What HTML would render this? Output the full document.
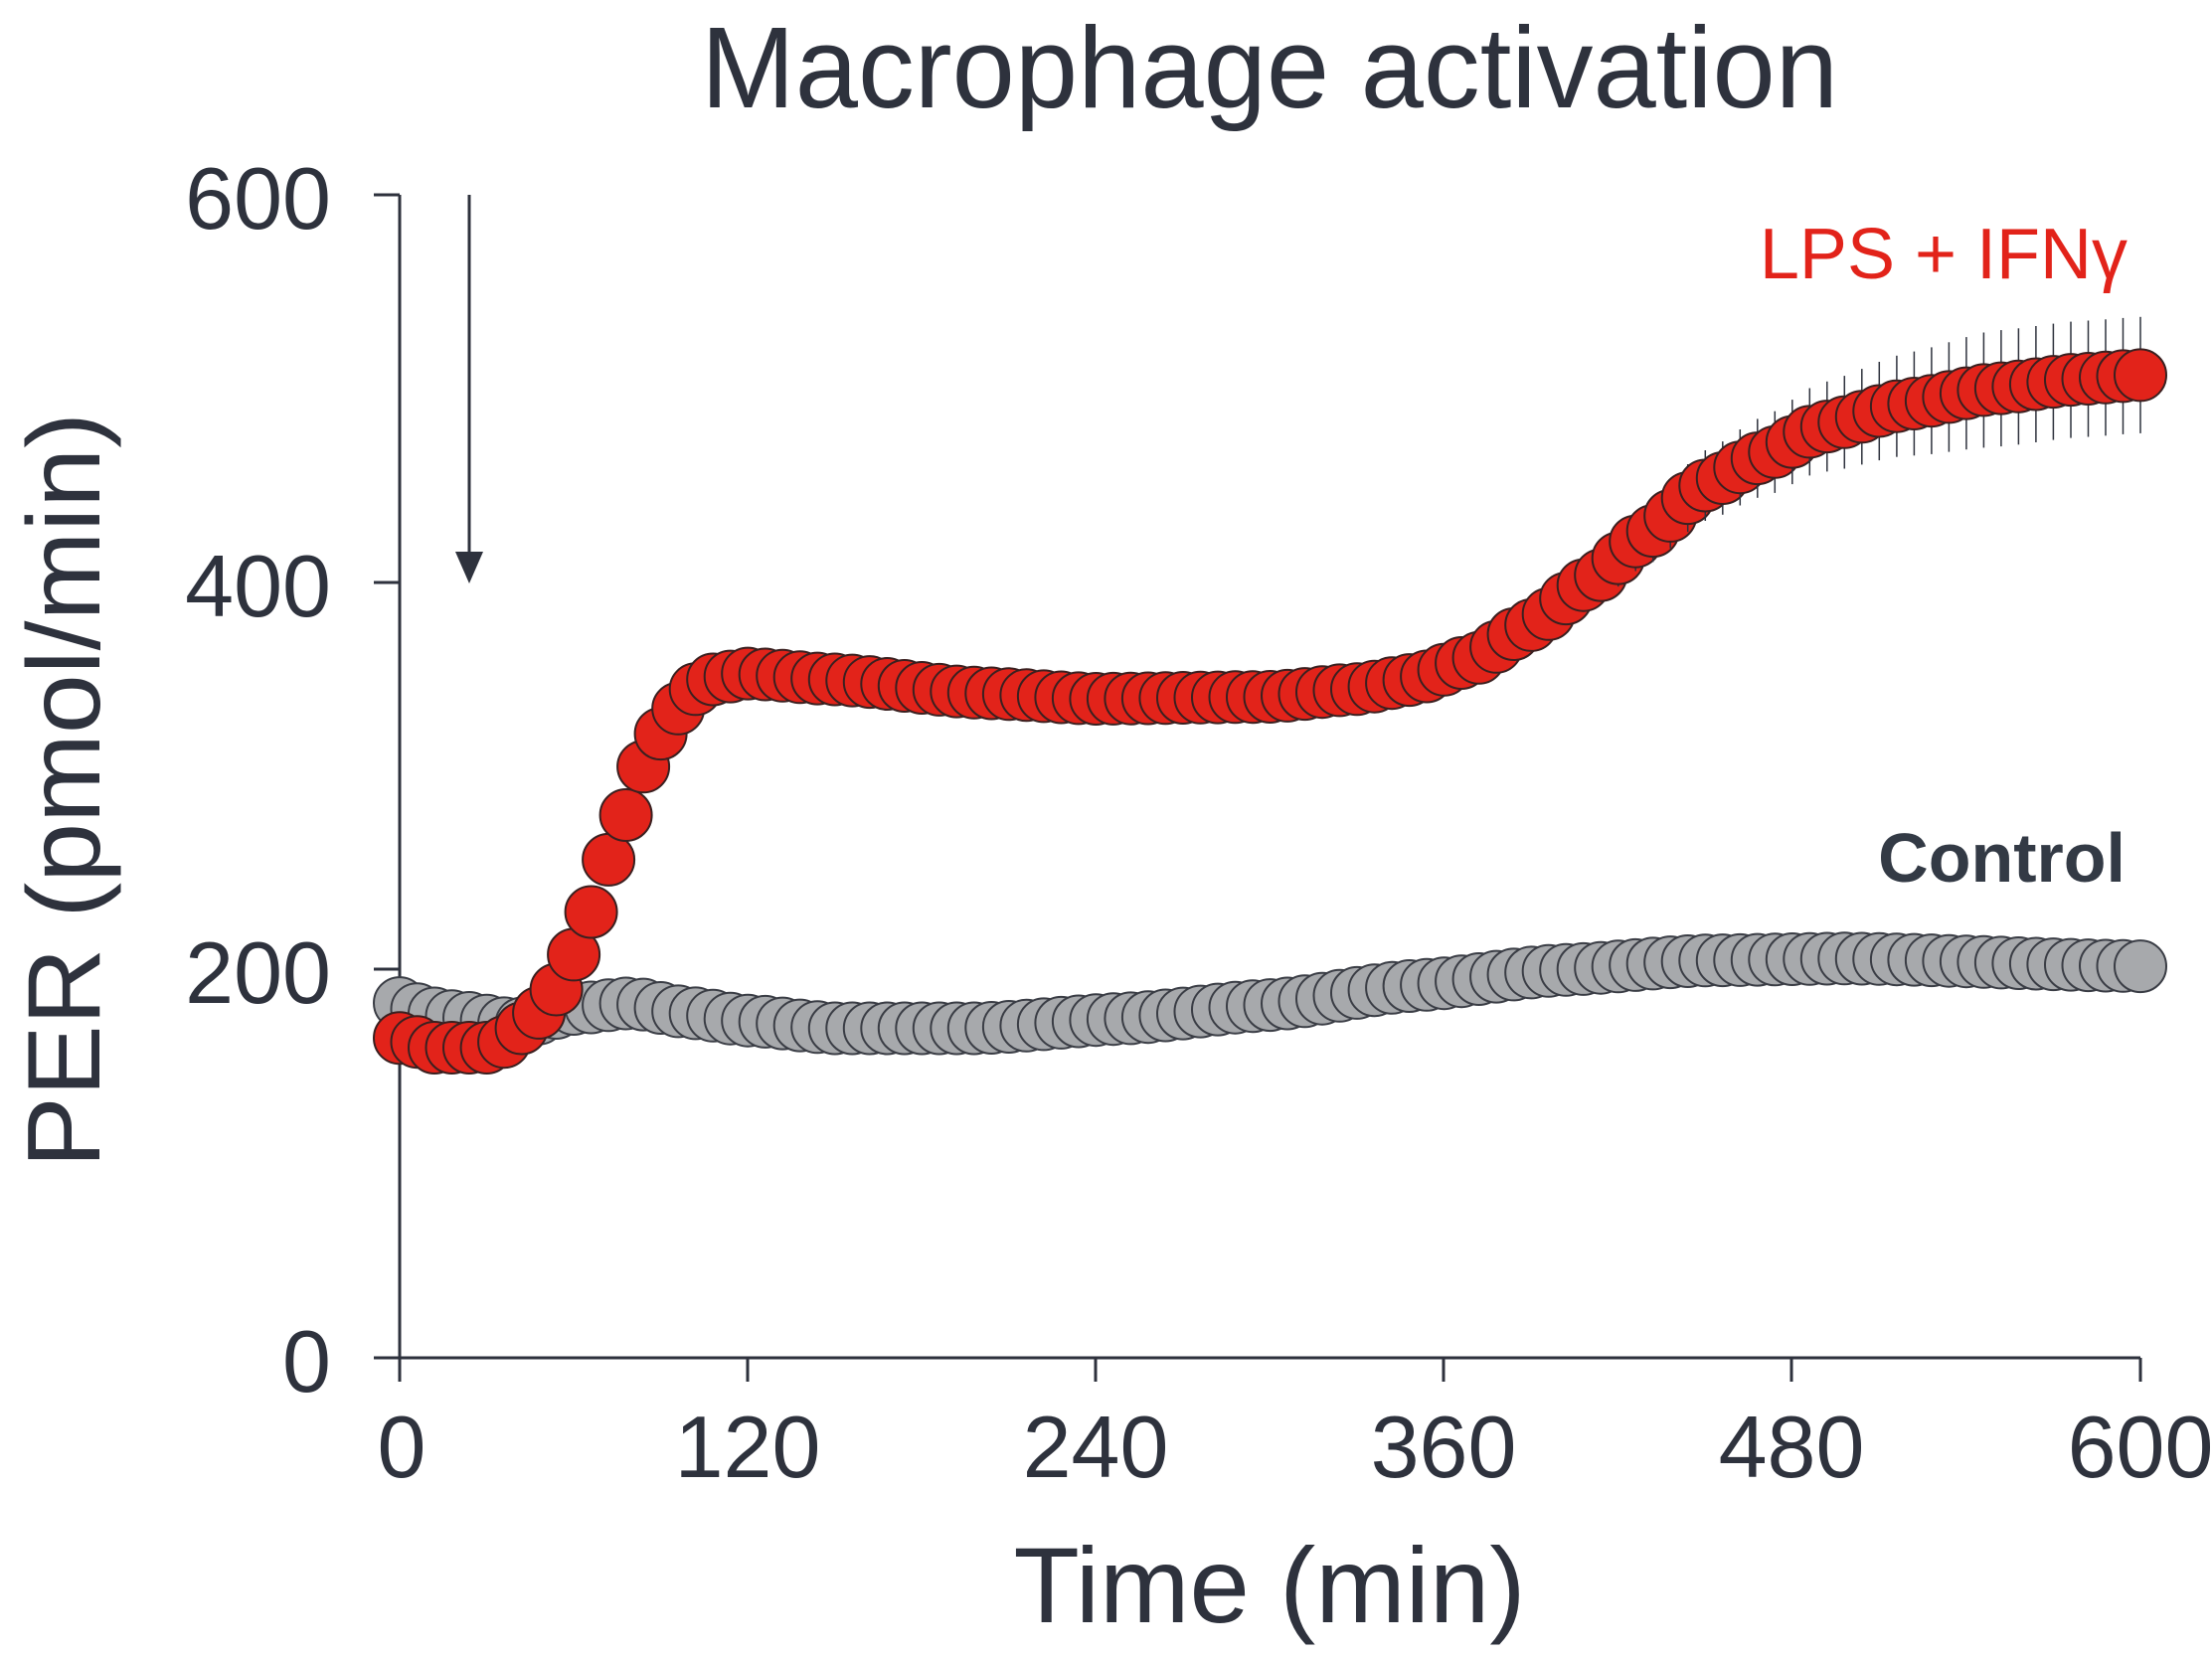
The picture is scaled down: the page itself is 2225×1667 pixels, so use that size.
<!DOCTYPE html>
<html><head><meta charset="utf-8">
<style>html,body{margin:0;padding:0;background:#fff}svg{display:block}</style>
</head><body>
<svg id="s" width="2225" height="1667" xmlns="http://www.w3.org/2000/svg" font-family="Liberation Sans, sans-serif">
<text x="1277" y="108" font-size="116" fill="#2e323d" text-anchor="middle" textLength="1144" lengthAdjust="spacingAndGlyphs">Macrophage activation</text>
<g stroke="#2e323d" stroke-width="3" fill="none">
<line x1="402" y1="196" x2="402" y2="1366"/>
<line x1="402" y1="1366" x2="2153" y2="1366"/>
<line x1="376" y1="196" x2="402" y2="196"/>
<line x1="376" y1="586" x2="402" y2="586"/>
<line x1="376" y1="975" x2="402" y2="975"/>
<line x1="376" y1="1366" x2="402" y2="1366"/>
<line x1="402" y1="1366" x2="402" y2="1390"/>
<line x1="752" y1="1366" x2="752" y2="1390"/>
<line x1="1102" y1="1366" x2="1102" y2="1390"/>
<line x1="1452" y1="1366" x2="1452" y2="1390"/>
<line x1="1802" y1="1366" x2="1802" y2="1390"/>
<line x1="2153" y1="1366" x2="2153" y2="1390"/>
<line x1="472" y1="196" x2="472" y2="570"/>
</g>
<polygon points="458,555 486,555 472,587" fill="#2e323d"/>
<g font-size="88" fill="#2e323d" text-anchor="end">
<text x="333" y="230">600</text><text x="333" y="620">400</text><text x="333" y="1009">200</text><text x="333" y="1400">0</text>
</g>
<g font-size="88" fill="#2e323d" text-anchor="middle">
<text x="404" y="1486">0</text><text x="752" y="1486">120</text><text x="1102" y="1486">240</text><text x="1452" y="1486">360</text><text x="1802" y="1486">480</text><text x="2153" y="1486">600</text>
</g>
<text x="1277" y="1632" font-size="108" fill="#2e323d" text-anchor="middle" textLength="515" lengthAdjust="spacingAndGlyphs">Time (min)</text>
<text transform="translate(100,795) rotate(-90)" font-size="104" fill="#2e323d" text-anchor="middle" textLength="760" lengthAdjust="spacingAndGlyphs">PER (pmol/min)</text>
<text x="2140" y="280" font-size="72" fill="#e2231a" text-anchor="end">LPS + IFNγ</text>
<text x="2138" y="887" font-size="70" fill="#333a45" font-weight="bold" text-anchor="end">Control</text>
<g id="g"></g>
</svg>
<script>
function interp(pts,t){for(var i=0;i<pts.length-1;i++){if(t<=pts[i+1][0]){var a=pts[i],b=pts[i+1];var f=(t-a[0])/(b[0]-a[0]);var s=f*f*(3-2*f);return a[1]+(b[1]-a[1])*(0.5*f+0.5*s);}}return pts[pts.length-1][1];}
var red=[[0,165],[6,163],[12,160],[30,160],[36,163],[42,170],[48,178],[54,190],[60,208],[66,230],[72,257],[78,280],[84,305],[90,322],[96,335],[102,345],[108,350],[120,353],[150,350],[200,343],[240,340],[300,341],[330,345],[350,350],[370,360],[390,378],[410,400],[430,425],[450,450],[470,465],[490,480],[520,492],[550,500],[580,505],[600,507]];
var gray=[[0,183],[10,178],[20,176],[40,172],[60,180],[80,183],[100,178],[120,174],[150,170],[200,170],[250,175],[300,182],[350,192],[400,200],[450,205],[500,206],[600,202]];
function X(t){return 402+t*(2153-402)/600}function Y(v){return 1366-v*(1366-196)/600}
var h='';
for(var t=0;t<=600;t+=6){var v=interp(gray,t);h+='<circle cx="'+X(t).toFixed(1)+'" cy="'+Y(v).toFixed(1)+'" r="26" fill="#a7a9ac" stroke="#3a3d45" stroke-width="2"/>';}
for(var t=0;t<=600;t+=6){var v=interp(red,t);var e=t<340?0:Math.min(30,(t-340)*0.12+5);
if(e>0)h+='<line x1="'+X(t).toFixed(1)+'" x2="'+X(t).toFixed(1)+'" y1="'+Y(v+e).toFixed(1)+'" y2="'+Y(v-e).toFixed(1)+'" stroke="#2e323d" stroke-width="1.5"/>';
h+='<circle cx="'+X(t).toFixed(1)+'" cy="'+Y(v).toFixed(1)+'" r="26" fill="#e2231a" stroke="#3a2020" stroke-width="2"/>';}
document.getElementById('g').innerHTML=h;
</script>
</body></html>
